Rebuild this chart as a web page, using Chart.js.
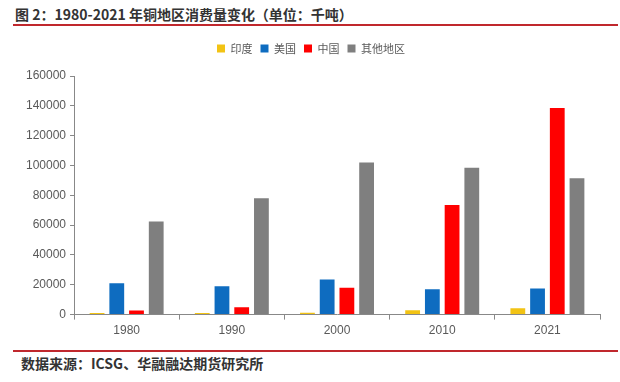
<!DOCTYPE html>
<html><head><meta charset="utf-8">
<script src="https://cdn.jsdelivr.net/npm/chart.js@4"></script>
<style>
html,body{margin:0;padding:0;background:#fff;width:620px;height:382px;overflow:hidden;font-family:"Noto Sans CJK SC","Noto Sans",sans-serif;}
#title{position:absolute;left:15px;top:4px;font-size:14px;font-weight:bold;color:#333;}
#line1{position:absolute;left:13px;top:24px;width:605px;height:2px;background:#c0282d;}
#line2{position:absolute;left:13px;top:350px;width:605px;height:2px;background:#c0282d;}
#src{position:absolute;left:21px;top:353px;font-size:14px;font-weight:bold;color:#333;}
#wrap{position:absolute;left:0;top:35px;width:620px;height:307px;}
</style></head><body>
<div id="title">图 2：1980-2021 年铜地区消费量变化（单位：千吨）</div>
<div id="line1"></div>
<div id="wrap"><canvas id="c"></canvas></div>
<div id="line2"></div>
<div id="src">数据来源：ICSG、华融融达期货研究所</div>
<script>
const categories = ["1980","1990","2000","2010","2021"];
const india = [1000, 1000, 1200, 3000, 4300];
const usa = [21000, 19000, 23500, 17000, 17500];
const china = [2800, 5000, 18000, 73500, 138500];
const other = [62500, 78000, 102000, 98500, 91500];
const seriesNames = ["印度","美国","中国","其他地区"];
const colors = ["#F2C314","#0E6CC0","#FF0000","#7F7F7F"];
const yTicks = [0,20000,40000,60000,80000,100000,120000,140000,160000];

const legendGap = {
  id: 'legendGap',
  beforeInit(chart) {
    const orig = chart.legend.fit;
    chart.legend.fit = function () { orig.bind(chart.legend)(); this.height += 12; };
  }
};

new Chart(document.getElementById('c'), {
  type: 'bar',
  plugins: [legendGap],
  data: {
    labels: categories,
    datasets: [india, usa, china, other].map((d, i) => ({
      label: seriesNames[i], data: d, backgroundColor: colors[i],
      categoryPercentage: 0.75, barPercentage: 0.75
    }))
  },
  options: {
    responsive: true, maintainAspectRatio: false, animation: false,
    layout: {padding: {left: 22, right: 20, top: 0, bottom: 0}},
    plugins: {
      legend: {position: 'top', align: 'center', labels: {boxWidth: 8, boxHeight: 8, font: {size: 11, family: '"Noto Sans CJK SC"'}, color: '#595959', padding: 8}},
      tooltip: {enabled: false}
    },
    scales: {
      x: {
        grid: {display: true, drawOnChartArea: false, drawTicks: true, tickLength: 5, color: '#888'},
        border: {color: '#888'},
        ticks: {font: {size: 12, family: '"Liberation Sans"'}, color: '#595959', padding: 4}
      },
      y: {
        min: 0, max: 160000,
        afterBuildTicks: ax => { ax.ticks = yTicks.map(v => ({value: v})); },
        grid: {display: true, drawOnChartArea: false, drawTicks: true, tickLength: 4, color: '#888'},
        border: {color: '#888'},
        ticks: {font: {size: 12, family: '"Liberation Sans"'}, color: '#595959', padding: 4, callback: v => String(v)}
      }
    }
  }
});
</script>
</body></html>
